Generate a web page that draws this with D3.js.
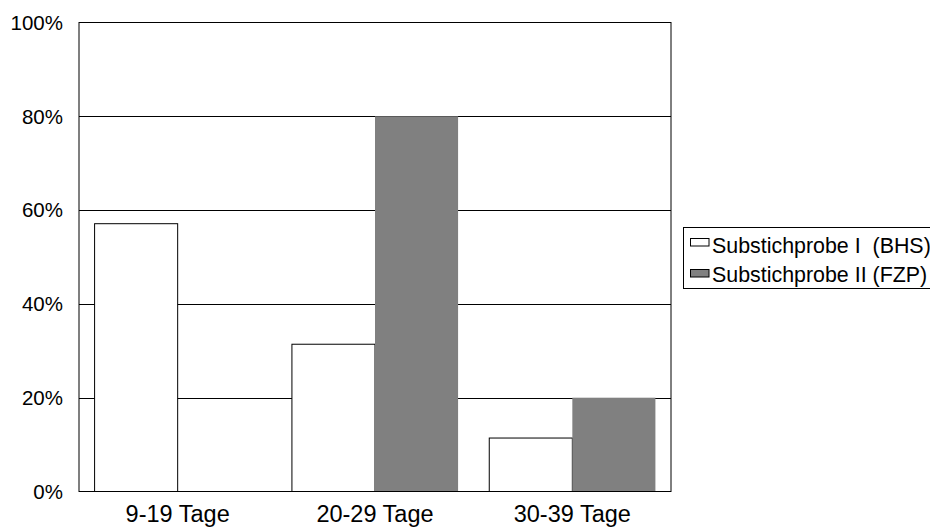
<!DOCTYPE html>
<html><head><meta charset="utf-8">
<script src="https://cdn.jsdelivr.net/npm/d3@7/dist/d3.min.js"></script>
<style>body{margin:0;background:#fff}svg{display:block}</style>
</head><body>
<script>
const categories = ["9-19 Tage", "20-29 Tage", "30-39 Tage"];
const seriesNames = ["Substichprobe I  (BHS)", "Substichprobe II (FZP)"];
const seriesI = [57.1, 31.4, 11.4];
const seriesII = [0, 80, 20];
const yTicks = [0, 20, 40, 60, 80, 100];
const colors = ["#ffffff", "#808080"];

const W = 930, H = 527;
const m = {left: 79, right: 671, top: 22.5, bottom: 491.5};
const svg = d3.select("body").append("svg").attr("width", W).attr("height", H);
const font = "'Liberation Sans', Arial, sans-serif";

const x = d3.scaleBand().domain(categories).range([m.left, m.right]).paddingInner(0.158).paddingOuter(0.079);
const xs = d3.scaleBand().domain([0,1]).range([0, x.bandwidth()]);
const y = d3.scaleLinear().domain([0, 100]).range([m.bottom, m.top]);

// gridlines
svg.append("g").selectAll("line").data(yTicks.filter(d => d > 0 && d < 100)).join("line")
  .attr("x1", m.left).attr("x2", m.right)
  .attr("y1", d => Math.round(y(d)) + 0.5).attr("y2", d => Math.round(y(d)) + 0.5)
  .attr("stroke", "#000").attr("stroke-width", 1);

const data = categories.map((c, i) => ({c, vals: [seriesI[i], seriesII[i]]}));
const g = svg.append("g");
data.forEach(d => {
  d.vals.forEach((v, k) => {
    if (v <= 0) return;
    g.append("rect")
      .attr("x", x(d.c) + xs(k)).attr("width", xs.bandwidth())
      .attr("y", y(v)).attr("height", y(0) - y(v))
      .attr("fill", colors[k])
      .attr("stroke", k === 0 ? "#000" : "none").attr("stroke-width", 1);
  });
});

// frame
svg.append("rect").attr("x", m.left).attr("y", m.top).attr("width", m.right - m.left).attr("height", m.bottom - m.top)
  .attr("fill", "none").attr("stroke", "#000").attr("stroke-width", 1);

// y axis labels
svg.append("g").selectAll("text").data(yTicks).join("text")
  .attr("x", 63).attr("y", d => y(d) + 7.3)
  .attr("text-anchor", "end").attr("font-family", font).attr("font-size", 20.5)
  .text(d => d + "%");

// x labels
svg.append("g").selectAll("text").data(categories).join("text")
  .attr("x", d => x(d) + x.bandwidth() / 2).attr("y", 521.5)
  .attr("text-anchor", "middle").attr("font-family", font).attr("font-size", 23.5)
  .text(d => d);

// legend
const lg = svg.append("g");
lg.append("rect").attr("x", 683.5).attr("y", 227.5).attr("width", 260).attr("height", 61)
  .attr("fill", "#fff").attr("stroke", "#000");
seriesNames.forEach((n, i) => {
  const top = 238.5 + i * 31;
  lg.append("rect").attr("x", 690.5).attr("y", top).attr("width", 18.5).attr("height", 7.5)
    .attr("fill", colors[i]).attr("stroke", "#000");
  lg.append("text").attr("x", 712).attr("y", 253.3 + i * 28.4)
    .attr("font-family", font).attr("font-size", 21.4)
    .style("white-space", "pre").text(n);
});
</script>
</body></html>
